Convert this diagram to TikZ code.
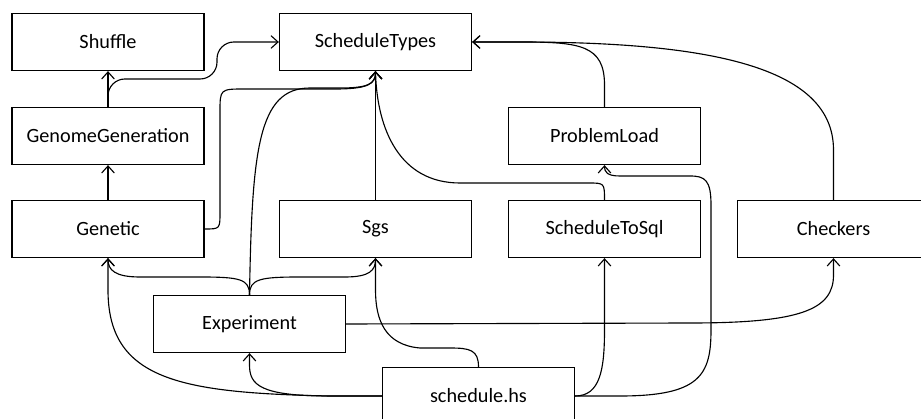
\documentclass[tikz,border=0pt]{standalone}
\usepackage{fontspec}
\setmainfont{Carlito}
\usetikzlibrary{arrows.meta}
\tikzset{
	module/.style={draw, line width=0.9pt, minimum width=4.8cm, minimum height=1.425cm, inner sep=0pt, font=\fontsize{14.4pt}{17pt}\selectfont},
	uses/.style={line width=0.8pt, -{Straight Barb[length=5pt,width=9pt,line width=0.8pt]}}
}

\begin{document}
\begin{tikzpicture}[x=0.025cm, y=-0.025cm]
		%%%%% START %%%%%
		\useasboundingbox (0,0) rectangle (921,419);
		
		\node[module] (shuffle) at (108,42) {Shuffle};
		\node[module] (types) at (375.5,42) {ScheduleTypes};
		\node[module] (genome) at (108,136) {GenomeGeneration};
		\node[module] (problem) at (604.5,136) {ProblemLoad};
		\node[module] (genetic) at (108,229) {Genetic};
		\node[module] (sgs) at (375.5,229) {Sgs};
		\node[module] (tosql) at (604.5,229) {ScheduleToSql};
		\node[module] (checkers) at (833.5,229) {Checkers};
		\node[module] (experiment) at (249.5,324) {Experiment};
		\node[module] (schedule) at (478.5,396) {schedule.hs};
		
		% GenomeGeneration
		\draw[uses] (genome.north) -- (shuffle.south);
		\draw[uses, rounded corners=12pt] (genome.north) |- (217,79) |- (types.west);
		
		% Genetic
		\draw[uses] (genetic.north) -- (genome.south);
		\draw[uses] (genetic.east) .. controls (220,229) .. (220,212) -- (220,112) .. controls (220,89) .. (245,89) -- (335,89) .. controls (368,89) and (375.5,84) .. (types.south);
		
		% Sgs, ScheduleToSql, ProblemLoad, Checkers
		\draw[uses] (sgs.north) -- (types.south);
		\draw[uses] (tosql.north) .. controls (604.5,183) .. (588,183) -- (460,183) .. controls (400,183) and (377,130) .. (types.south);
		\draw[uses] (problem.north) -- (604.5,85) .. controls (604.5,45) and (580,42) .. (520,42) -- (types.east);
		\draw[uses] (checkers.north) -- (833.5,150) .. controls (833.5,70) and (720,42) .. (520,42) -- (types.east);
		
		% Experiment
		\draw[uses] (experiment.north) .. controls (252,150) and (258,88) .. (310,88) -- (340,88) .. controls (368,88) and (375.5,84) .. (types.south);
		\draw[uses] (experiment.north) .. controls (249.5,279) and (240,277) .. (200,277) -- (140,277) .. controls (115,277) and (108,270) .. (genetic.south);
		\draw[uses] (experiment.north) .. controls (249.5,279) and (260,277) .. (300,277) -- (345,277) .. controls (370,277) and (375.5,270) .. (sgs.south);
		\draw[uses] (experiment.east) -- (690,323) .. controls (800,323) and (833.5,310) .. (833.5,275) -- (checkers.south);
		
		% schedule.hs
		\draw[uses] (schedule.west) -- (330,396) .. controls (180,393) and (108,380) .. (108,290) -- (genetic.south);
		\draw[uses] (schedule.west) -- (330,396) .. controls (260,396) and (249.5,385) .. (249.5,365) -- (experiment.south);
		\draw[uses] (schedule.north) .. controls (478.5,350) and (470,348) .. (450,348) -- (420,348) .. controls (385,345) and (375.5,320) .. (375.5,290) -- (sgs.south);
		\draw[uses] (schedule.east) .. controls (600,396) and (604.5,370) .. (604.5,330) -- (tosql.south);
		\draw[uses] (schedule.east) -- (620,396) .. controls (700,396) and (711,375) .. (711,330) -- (711,205) .. controls (711,180) and (705,176) .. (690,176) -- (620,176) .. controls (607,176) and (604.5,172) .. (problem.south);
		
		%%%%% END %%%%%
	\end{tikzpicture}
\end{document}
